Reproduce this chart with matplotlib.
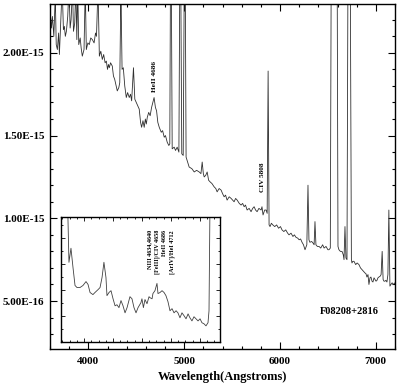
import numpy as np
import matplotlib
matplotlib.use('Agg')
import matplotlib.pyplot as plt
from matplotlib.ticker import MultipleLocator, FixedLocator, FuncFormatter

plt.rcParams['font.family'] = ['Liberation Serif', 'DejaVu Serif']
plt.rcParams['font.weight'] = 'bold'

# main spectrum: wavelength (A) and flux (units of 1e-15)
wave = [3600, 3615, 3625, 3640, 3655, 3665, 3677, 3690, 3698, 3712, 3727, 3740, 3750, 3760,
        3771, 3785, 3798, 3810, 3820, 3835, 3845, 3858, 3869, 3880, 3889, 3900, 3915, 3925,
        3937, 3955, 3968, 3979, 3995, 4010, 4025, 4042, 4060, 4075, 4085, 4101, 4115, 4130,
        4146, 4160, 4175, 4188, 4200, 4210, 4219, 4232, 4250, 4262, 4275, 4290, 4302, 4318,
        4328, 4340, 4352, 4365, 4380, 4396, 4410, 4427, 4440, 4452, 4471, 4485, 4500, 4515,
        4531, 4545, 4556, 4570, 4583, 4595, 4605, 4615, 4630, 4645, 4660, 4686, 4700, 4712,
        4725, 4740, 4761, 4775, 4792, 4805, 4823, 4840, 4850, 4861, 4875, 4896, 4910, 4927,
        4945, 4959, 4975, 4990, 5007, 5020, 5052, 5080, 5105, 5130, 5157, 5175, 5188, 5200,
        5209, 5225, 5240, 5255, 5271, 5290, 5313, 5330, 5344, 5365, 5386, 5400, 5417, 5432,
        5448, 5470, 5490, 5505, 5521, 5537, 5553, 5575, 5594, 5610, 5626, 5640, 5657, 5678,
        5698, 5715, 5730, 5745, 5761, 5780, 5803, 5812, 5823, 5840, 5855, 5866, 5876, 5886,
        5896, 5910, 5925, 5945, 5965, 5985, 6005, 6021, 6040, 6060, 6080, 6094, 6115, 6135,
        6150, 6167, 6185, 6200, 6215, 6230, 6245, 6261, 6280, 6292, 6302, 6312, 6330, 6345,
        6356, 6365, 6375, 6390, 6407, 6425, 6445, 6460, 6480, 6500, 6511, 6525, 6537, 6563,
        6594, 6605, 6615, 6630, 6647, 6660, 6668, 6678, 6688, 6699, 6712, 6730, 6745, 6751,
        6760, 6772, 6790, 6805, 6824, 6840, 6855, 6870, 6886, 6897, 6907, 6918, 6928, 6939,
        6949, 6960, 6970, 6981, 6991, 7002, 7012, 7022, 7032, 7045, 7055, 7066, 7076, 7085,
        7095, 7105, 7116, 7126, 7136, 7147, 7157, 7170, 7185, 7200]
flux = [2.26, 2.15, 2.22, 2.10, 2.35, 2.05, 2.02, 2.12, 1.99, 2.18, 2.40, 2.14, 2.16, 2.10,
        2.13, 2.22, 2.40, 2.15, 2.20, 2.40, 2.13, 2.18, 2.40, 2.08, 2.40, 2.05, 2.09, 2.03,
        1.98, 2.02, 2.40, 2.02, 2.06, 2.05, 2.09, 2.08, 2.06, 2.12, 2.10, 2.40, 1.98, 2.01,
        1.96, 1.99, 1.94, 1.95, 1.90, 1.93, 1.91, 1.94, 1.92, 1.86, 1.84, 1.80, 1.77, 1.79,
        1.82, 2.40, 1.90, 1.91, 1.80, 1.73, 1.76, 1.73, 1.75, 1.71, 1.91, 1.72, 1.70, 1.68,
        1.66, 1.58, 1.55, 1.59, 1.55, 1.60, 1.57, 1.61, 1.64, 1.62, 1.67, 1.73, 1.67, 1.65,
        1.58, 1.55, 1.52, 1.53, 1.49, 1.50, 1.46, 1.44, 1.45, 3.00, 1.42, 1.43, 1.41, 1.43,
        1.40, 3.00, 1.39, 1.38, 3.00, 1.37, 1.31, 1.30, 1.28, 1.29, 1.28, 1.27, 1.34, 1.27,
        1.25, 1.26, 1.28, 1.23, 1.22, 1.21, 1.19, 1.18, 1.16, 1.18, 1.17, 1.15, 1.13, 1.14,
        1.11, 1.13, 1.12, 1.11, 1.10, 1.12, 1.11, 1.09, 1.08, 1.09, 1.07, 1.08, 1.05, 1.06,
        1.04, 1.06, 1.07, 1.05, 1.04, 1.06, 1.05, 1.07, 1.02, 1.05, 1.05, 1.03, 1.89, 0.96,
        0.95, 0.97, 0.96, 0.95, 0.96, 0.94, 0.95, 0.93, 0.92, 0.93, 0.91, 0.90, 0.91, 0.89,
        0.90, 0.885, 0.88, 0.87, 0.875, 0.855, 0.84, 0.81, 0.84, 1.20, 0.87, 0.855, 0.86, 0.85,
        0.84, 0.98, 0.84, 0.83, 0.83, 0.82, 0.84, 0.82, 0.83, 0.81, 0.81, 0.82, 3.00, 5.00,
        3.00, 0.83, 0.81, 0.80, 0.80, 0.78, 0.75, 0.95, 0.76, 0.75, 3.00, 3.00, 0.75, 0.73,
        0.74, 0.74, 0.72, 0.73, 0.72, 0.70, 0.69, 0.68, 0.67, 0.665, 0.645, 0.66, 0.60, 0.64,
        0.645, 0.62, 0.615, 0.64, 0.63, 0.62, 0.625, 0.64, 0.645, 0.65, 0.66, 0.80, 0.63, 0.62,
        0.62, 0.625, 0.615, 0.66, 1.05, 0.59, 0.60, 0.61, 0.60, 0.61]

# inset spectrum: wavelength (A) and flux (units of 1e-16)
wave_in = [4085, 4095, 4109, 4123, 4137, 4151, 4171, 4192, 4213, 4227, 4241, 4261, 4275, 4296,
           4310, 4324, 4337, 4351, 4358, 4372, 4386, 4400, 4414, 4427, 4441, 4455, 4469, 4483,
           4497, 4517, 4531, 4545, 4559, 4573, 4593, 4600, 4610, 4621, 4635, 4649, 4656, 4670,
           4676, 4690, 4704, 4711, 4725, 4739, 4753, 4766, 4780, 4794, 4808, 4822, 4836, 4849,
           4863, 4877, 4891, 4905, 4919, 4932, 4946, 4960, 4974, 4988, 5002, 5015, 5029, 5043,
           5057, 5064, 5071, 5078]
flux_in = [8.5, 6.06, 6.60, 5.86, 5.17, 5.09, 5.09, 5.17, 5.32, 5.21, 4.90, 4.82, 4.90, 5.01,
           5.09, 5.48, 6.06, 5.48, 4.78, 4.90, 4.97, 4.66, 4.39, 4.43, 4.32, 4.59, 4.39, 4.12,
           4.32, 4.74, 4.66, 4.32, 4.12, 4.32, 4.51, 4.66, 4.32, 4.63, 4.47, 4.74, 4.70, 4.66,
           4.86, 4.97, 5.25, 4.86, 4.90, 4.97, 4.90, 4.78, 4.55, 4.20, 4.28, 4.12, 4.20, 4.12,
           3.93, 4.12, 4.01, 3.89, 4.08, 3.93, 3.81, 3.97, 3.89, 3.81, 3.89, 3.74, 3.70, 3.62,
           3.74, 4.20, 8.5, 8.5]

inset_labels = ['NIII 4634,4640', '[FeIII]/CIV 4658', 'HeII 4686', '[ArIV]/HeI 4712']
x_ticks = [4000, 5000, 6000, 7000]
y_ticks = [5e-16, 1e-15, 1.5e-15, 2e-15]

fig = plt.figure(figsize=(4.0, 3.85), dpi=100)
ax = fig.add_axes([0.125, 0.0935, 0.8625, 0.896])

ax.plot(wave, np.array(flux) * 1e-15, color='#303030', lw=0.6)
ax.set_xlim(3600, 7200)
ax.set_ylim(2.1e-16, 2.295e-15)
ax.xaxis.set_major_locator(FixedLocator(x_ticks))
ax.xaxis.set_minor_locator(MultipleLocator(200))
ax.yaxis.set_major_locator(FixedLocator(y_ticks))
ax.yaxis.set_minor_locator(MultipleLocator(1e-16))
ax.yaxis.set_major_formatter(FuncFormatter(lambda v, p: '%.2E' % v))
ax.tick_params(which='both', direction='in', top=True, right=True, labelsize=8, width=0.8)
ax.tick_params(which='major', length=5)
ax.tick_params(which='minor', length=2.5)
ax.tick_params(axis='x', pad=6)
ax.tick_params(axis='y', pad=4)
for s in ax.spines.values():
    s.set_linewidth(1.0)
ax.set_xlabel('Wavelength(Angstroms)', fontsize=9, fontweight='bold', labelpad=3)

ax.text(4686, 1.86e-15, 'HeII 4686', rotation=90, fontsize=5.2, ha='center', va='center')
ax.text(5813, 1.25e-15, 'CIV 5808', rotation=90, fontsize=5.2, ha='center', va='center')
ax.text(6720, 4.35e-16, 'F08208+2816', fontsize=7.5, fontweight='bold', ha='center', va='center')

# inset
axin = fig.add_axes([0.1525, 0.1117, 0.3975, 0.3247])
axin.plot(wave_in, np.array(flux_in) * 1e-16, color='#404040', lw=0.6)
axin.set_xlim(4040, 5140)
axin.set_ylim(3.0e-16, 7.8e-16)
axin.xaxis.set_major_locator(MultipleLocator(200))
axin.xaxis.set_minor_locator(MultipleLocator(50))
axin.yaxis.set_major_locator(MultipleLocator(1e-16))
axin.yaxis.set_minor_locator(MultipleLocator(5e-17))
axin.tick_params(which='both', direction='in', top=True, right=True,
                 labelbottom=False, labelleft=False, width=0.6)
axin.tick_params(which='major', length=3)
axin.tick_params(which='minor', length=1.5)
for s in axin.spines.values():
    s.set_linewidth(1.0)

for i, lab in enumerate(inset_labels):
    axin.text(4655 + i * 52, 7.3e-16, lab, rotation=90, fontsize=4.4,
              ha='center', va='top')

fig.savefig('out.png', dpi=100)
